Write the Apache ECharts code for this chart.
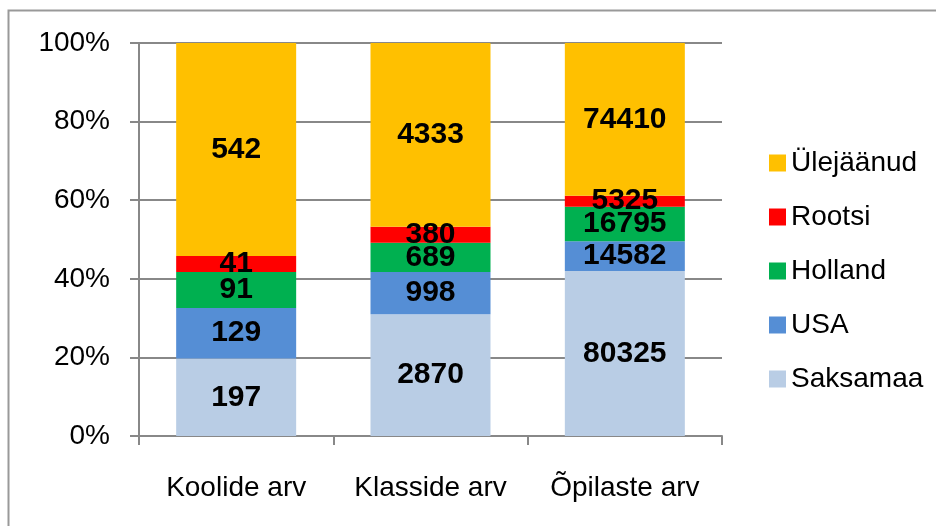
<!DOCTYPE html>
<html>
<head>
<meta charset="utf-8">
<script src="https://cdn.jsdelivr.net/npm/echarts@6/dist/echarts.min.js"></script>
<style>
	html, body { margin: 0; padding: 0; background: #fff; }
	#chart { width: 936px; height: 526px; }
</style>
</head>
<body>
<div id="chart"></div>
<script>
var categories = ['Koolide arv', 'Klasside arv', 'Õpilaste arv'];
var saksamaa = [197, 2870, 80325];
var usa = [129, 998, 14582];
var holland = [91, 689, 16795];
var rootsi = [41, 380, 5325];
var ylejaanud = [542, 4333, 74410];
var yTicks = ['0%', '20%', '40%', '60%', '80%', '100%'];

var totals = categories.map(function (c, i) {
	return saksamaa[i] + usa[i] + holland[i] + rootsi[i] + ylejaanud[i];
});

// 100% virna jaoks protsendid, silt näitab algväärtust
function toPercent(arr) {
	return arr.map(function (v, i) {
		return { value: v / totals[i] * 100, raw: v };
	});
}

var font = 'Liberation Sans';

function makeSeries(name, arr, color) {
	return {
		name: name,
		type: 'bar',
		stack: 'total',
		barWidth: 120,
		itemStyle: { color: color },
		label: {
			show: true,
			position: 'inside',
			color: '#000',
			fontFamily: font,
			fontWeight: 'bold',
			fontSize: 30,
			formatter: function (p) { return p.data.raw; }
		},
		data: toPercent(arr)
	};
}

var myChart = echarts.init(document.getElementById('chart'));
var option = {
	backgroundColor: '#fff',
	animation: false,
	grid: {
		left: 139,
		right: 214,
		top: 43,
		bottom: 90
	},
	legend: {
		orient: 'vertical',
		left: 764,
		top: 144,
		itemWidth: 17,
		itemHeight: 17,
		itemGap: 26,
		icon: 'rect',
		textStyle: { color: '#000', fontFamily: font, fontSize: 28 },
		data: ['Ülejäänud', 'Rootsi', 'Holland', 'USA', 'Saksamaa']
	},
	xAxis: {
		type: 'category',
		data: categories,
		axisLine: { lineStyle: { color: '#888', width: 2 } },
		axisTick: { show: true, interval: 0, length: 9, lineStyle: { color: '#888', width: 2 } },
		axisLabel: { interval: 0, hideOverlap: false, color: '#000', fontFamily: font, fontSize: 28, margin: 38 }
	},
	yAxis: {
		type: 'value',
		min: 0,
		max: 100,
		interval: 20,
		axisLine: { show: true, lineStyle: { color: '#888', width: 2 } },
		axisTick: { show: true, length: 9, lineStyle: { color: '#888', width: 2 } },
		splitLine: { show: true, lineStyle: { color: '#888', width: 2 } },
		axisLabel: {
			color: '#000',
			fontFamily: font,
			fontSize: 28,
			margin: 29,
			formatter: function (v) { return yTicks[Math.round(v / 20)]; }
		}
	},
	graphic: [{
		type: 'rect',
		shape: { x: 8.5, y: 10.5, width: 1000, height: 1000 },
		style: { fill: 'none', stroke: '#999', lineWidth: 2 },
		z: -1
	}],
	series: [
		makeSeries('Saksamaa', saksamaa, '#B9CDE5'),
		makeSeries('USA', usa, '#558ED5'),
		makeSeries('Holland', holland, '#00B050'),
		makeSeries('Rootsi', rootsi, '#FF0000'),
		makeSeries('Ülejäänud', ylejaanud, '#FFC000')
	]
};
myChart.setOption(option);
</script>
</body>
</html>
